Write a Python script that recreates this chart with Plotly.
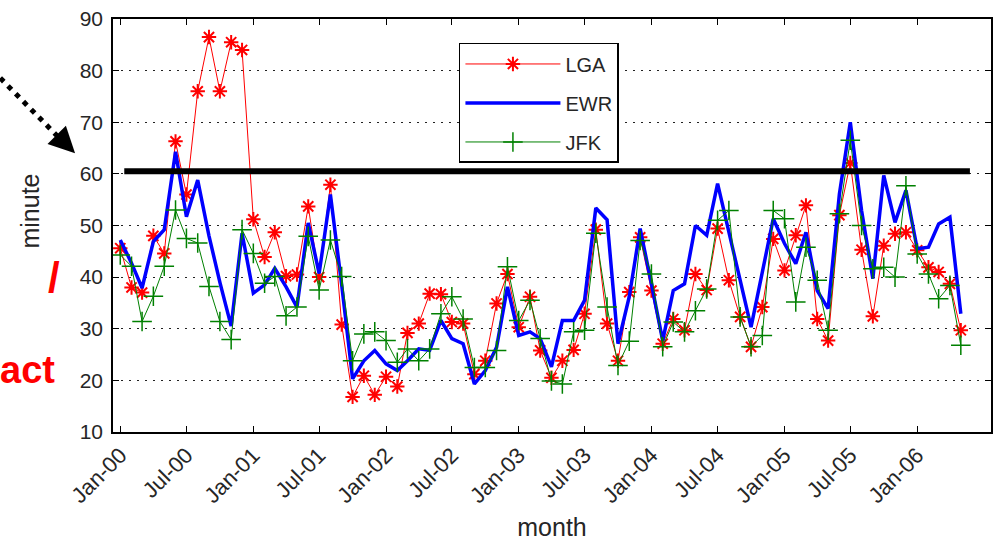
import pandas as pd
import plotly.graph_objects as go

# ---- data ----
months = pd.date_range("2000-01-01", periods=77, freq="MS")

lga = [45.6, 38, 37, 48, 44.6, 66.3, 56, 76, 86.5, 76, 85.5, 84, 51.2, 43.9, 48.7, 40.2,
       40.5, 53.7, 40, 57.9, 30.8, 16.8, 20.9, 17.2, 20.7, 18.8, 29.2, 31, 36.8, 36.7,
       31.3, 31, 21.2, 23.8, 34.9, 40.6, 30.3, 36.2, 25.8, 20.5, 23.8, 25.9, 32.9, 49.2,
       31, 23.8, 37.1, 47.7, 37.4, 27.1, 31.9, 29.7, 40.6, 37.5, 49.4, 39.4, 32.3, 26.5,
       34.2, 47.4, 41.3, 48.1, 53.9, 31.9, 27.7, 52, 62.1, 45.3, 32.4, 46.1, 48.4, 48.7,
       45.2, 41.9, 41, 38.7, 29.7]

ewr = [47.2, 42.7, 37.9, 46.9, 49.2, 64.3, 51.7, 58.8, 48, 39, 30.5, 48.5, 36.9, 38.5,
       41.7, 38.1, 34.2, 50.5, 40.7, 56, 38.5, 20.3, 23.8, 25.8, 23.2, 21.9, 23.8, 26.1,
       25.8, 31.6, 28.1, 27.1, 19.3, 21.9, 26.4, 38.1, 28.7, 29.4, 28.1, 22.6, 31.6, 31.6,
       35.5, 53.4, 51.1, 27.1, 36.2, 49.4, 38.7, 27.7, 37.4, 38.7, 50, 48.1, 58.1, 48.4,
       39.4, 30.3, 40.6, 51.3, 46.5, 42.6, 48.7, 37.4, 33.9, 56.1, 70, 52.9, 39.7, 59.7,
       50.6, 56.8, 45.5, 45.8, 50.3, 51.6, 32.9]

jfk = [44.3, 42.1, 31.4, 36.3, 42.1, 53, 47.5, 46.6, 38.2, 31.4, 27.9, 49.2, 44.6, 38.8,
       40.1, 32.5, 34.2, 47.9, 37.5, 47.2, 40.1, 23.8, 29, 29.4, 27.7, 23.5, 26.1, 23.8,
       26.1, 32.9, 36.2, 31.9, 22.5, 22.5, 25.8, 42, 31.6, 35.5, 28.1, 19.9, 19.3, 29.4,
       29.7, 48.5, 34.2, 22.9, 27.6, 47.1, 40.6, 26.5, 31.3, 29.4, 33.5, 37.7, 51, 52.9,
       32.3, 26.5, 28.7, 52.9, 51.3, 35.2, 45.8, 39.4, 29.7, 52.3, 66.5, 50, 41.6, 41.9,
       40, 57.7, 44.5, 40.6, 35.8, 38.4, 26.8]

tick_dates = ["2000-01-01", "2000-07-01", "2001-01-01", "2001-07-01", "2002-01-01",
              "2002-07-01", "2003-01-01", "2003-07-01", "2004-01-01", "2004-07-01",
              "2005-01-01", "2005-07-01", "2006-01-01"]
tick_text = ["Jan-00", "Jul-00", "Jan-01", "Jul-01", "Jan-02", "Jul-02", "Jan-03",
             "Jul-03", "Jan-04", "Jul-04", "Jan-05", "Jul-05", "Jan-06"]
y_ticks = [10, 20, 30, 40, 50, 60, 70, 80, 90]

threshold = 60.5
threshold_start = "2000-01-12"
threshold_end = "2006-05-26"

FONT = "Liberation Sans, Arial, sans-serif"
TXT = "#262626"

fig = go.Figure()
fig.add_trace(go.Scatter(
    x=months, y=lga, name="LGA", mode="lines+markers", legendgroup="a",
    line=dict(color="#ff0000", width=1),
    marker=dict(symbol="asterisk-open", size=12, color="#ff0000",
                line=dict(color="#ff0000", width=2))))
fig.add_trace(go.Scatter(
    x=months, y=ewr, name="EWR", mode="lines", legendgroup="b",
    line=dict(color="#0000ff", width=3.5)))
fig.add_trace(go.Scatter(
    x=months, y=jfk, name="JFK", mode="lines+markers", legendgroup="c",
    line=dict(color="#008000", width=1),
    marker=dict(symbol="cross-thin-open", size=14, color="#008000",
                line=dict(color="#008000", width=1.5))))

# threshold line
fig.add_shape(type="line", xref="x", yref="y", x0=threshold_start, x1=threshold_end,
              y0=threshold, y1=threshold, line=dict(color="black", width=6), layer="above")

# dotted arrow at left
fig.add_shape(type="line", xref="paper", yref="paper",
              x0=-0.1284, y0=0.857, x1=-0.058, y1=0.705,
              line=dict(color="black", width=5, dash="5px,6px"))
fig.add_annotation(xref="paper", yref="paper", x=-0.0432, y=0.675, text="",
                   showarrow=True, ax=-12, ay=-12, arrowhead=2, arrowsize=1.3,
                   arrowwidth=4, arrowcolor="black")

# cropped red text fragments at left
fig.add_annotation(xref="paper", yref="paper", x=-0.058, y=0.375, text="<b>/</b>",
                   showarrow=False, xanchor="right", yanchor="middle",
                   font=dict(family=FONT, size=42, color="#ff0000"))
fig.add_annotation(xref="paper", yref="paper", x=-0.064, y=0.15, text="<b>act</b>",
                   showarrow=False, xanchor="right", yanchor="middle",
                   font=dict(family=FONT, size=38, color="#ff0000"))

# y axis title
fig.add_annotation(xref="paper", yref="paper", x=-0.094, y=0.535, text="minute",
                   showarrow=False, textangle=-90, xanchor="center", yanchor="middle",
                   font=dict(family=FONT, size=25, color=TXT))

fig.update_layout(
    width=996, height=542,
    margin=dict(l=113, r=3, t=19, b=110),
    paper_bgcolor="white", plot_bgcolor="white",
    font=dict(family=FONT, color=TXT),
    showlegend=True,
    legend=dict(x=0.394, y=0.942, xanchor="left", yanchor="top",
                bgcolor="white", bordercolor="black", borderwidth=1.5,
                font=dict(family=FONT, size=20, color=TXT),
                tracegroupgap=10, itemwidth=95),
)
fig.update_xaxes(
    type="date", range=["1999-12-12", "2006-07-23"],
    tickvals=tick_dates, ticktext=tick_text, tickangle=-45,
    ticks="inside", ticklen=6, tickcolor="black", tickwidth=1.2,
    showline=True, linecolor="black", linewidth=1.5, mirror="allticks",
    showgrid=False, zeroline=False,
    tickfont=dict(family=FONT, size=22, color=TXT),
    title=dict(text="month", font=dict(family=FONT, size=25, color=TXT), standoff=11),
)
fig.update_yaxes(
    range=[10, 90], tickvals=y_ticks,
    ticks="inside", ticklen=6, tickcolor="black", tickwidth=1.2,
    showline=True, linecolor="black", linewidth=1.5, mirror="allticks",
    showgrid=True, gridcolor="#222222", gridwidth=1, griddash="2px,6px",
    zeroline=False, ticklabelstandoff=4,
    tickfont=dict(family=FONT, size=21, color=TXT),
)

fig.write_html("out.html")
